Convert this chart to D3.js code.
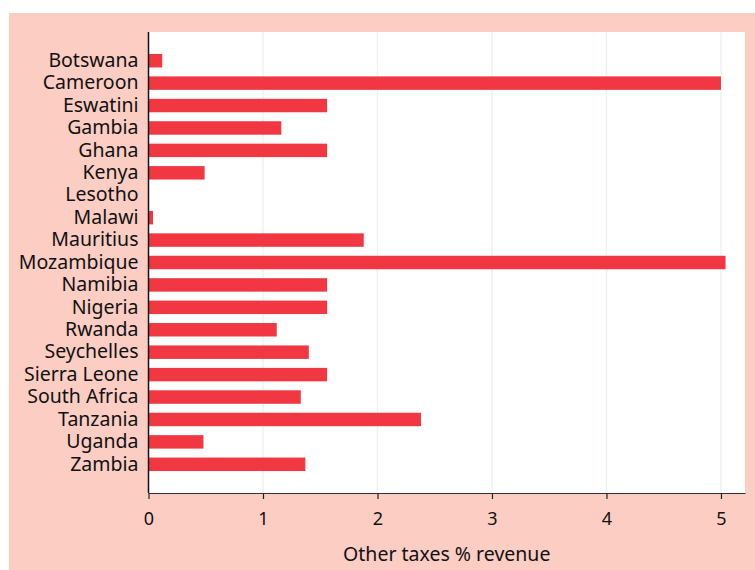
<!DOCTYPE html>
<html>
<head>
<meta charset="utf-8">
<script src="https://cdn.jsdelivr.net/npm/d3@7"></script>
<style>
  body { margin: 0; background: #fff; }
  svg { display: block; }
  svg text { font-family: "Noto Sans", sans-serif; }
</style>
</head>
<body>
<svg id="chart" width="755" height="570"></svg>
<script>
// values
const countries = ["Botswana", "Cameroon", "Eswatini", "Gambia", "Ghana", "Kenya", "Lesotho",
  "Malawi", "Mauritius", "Mozambique", "Namibia", "Nigeria", "Rwanda", "Seychelles",
  "Sierra Leone", "South Africa", "Tanzania", "Uganda", "Zambia"];
const otherTaxes = [0.12, 5.0, 1.56, 1.16, 1.56, 0.49, 0, 0.04, 1.88, 5.04, 1.56, 1.56, 1.12,
  1.40, 1.56, 1.33, 2.38, 0.48, 1.37];
const xTicks = [0, 1, 2, 3, 4, 5];

const svg = d3.select("#chart");
const plot = { left: 148.5, right: 745, top: 32, bottom: 493 };

// pink frame
svg.append("rect")
  .attr("x", 9).attr("y", 13)
  .attr("width", 746).attr("height", 557)
  .attr("fill", "#fbcdc3");

svg.append("rect")
  .attr("x", plot.left).attr("y", plot.top)
  .attr("width", plot.right - plot.left).attr("height", plot.bottom - plot.top)
  .attr("fill", "#fff");

const x = d3.scaleLinear().domain([0, 5.21]).range([plot.left, plot.right]);
const y = d3.scaleBand().domain(countries).range([plot.top, plot.bottom])
  .paddingInner(0.4).paddingOuter(0.98);

// grid
svg.append("g").selectAll("line")
  .data(xTicks.slice(1))
  .join("line")
  .attr("x1", d => x(d)).attr("x2", d => x(d))
  .attr("y1", plot.top).attr("y2", plot.bottom)
  .attr("stroke", "#edf2f5")
  .attr("stroke-width", 1.5);

// bars
svg.append("g").selectAll("rect")
  .data(countries)
  .join("rect")
  .attr("x", x(0))
  .attr("y", d => y(d))
  .attr("width", (d, i) => x(otherTaxes[i]) - x(0))
  .attr("height", y.bandwidth())
  .attr("fill", "#f03742");

// x axis
const xAxis = svg.append("g")
  .attr("transform", `translate(0,${plot.bottom})`)
  .call(d3.axisBottom(x).tickValues(xTicks).tickFormat(d3.format("d")).tickSize(6).tickSizeOuter(0).tickPadding(13));
xAxis.attr("font-family", null);
xAxis.select(".domain").attr("stroke", "#333").attr("stroke-width", 1.2);
xAxis.selectAll(".tick line").attr("stroke", "#222").attr("stroke-width", 1.2);
xAxis.selectAll(".tick text").attr("font-size", 18).attr("fill", "#111");

// y axis
const yAxis = svg.append("g")
  .attr("transform", `translate(${plot.left},0)`)
  .call(d3.axisLeft(y).tickSize(0).tickPadding(10));
yAxis.attr("font-family", null);
yAxis.select(".domain").attr("stroke", "#111").attr("stroke-width", 1.5)
  .attr("d", `M0,${plot.top}V${plot.bottom}`);
yAxis.selectAll(".tick text").attr("font-size", 19.5).attr("fill", "#111");

svg.append("text")
  .attr("x", (plot.left + plot.right) / 2)
  .attr("y", 561)
  .attr("text-anchor", "middle")
  .attr("font-size", 19.5)
  .attr("fill", "#111")
  .text("Other taxes % revenue");
</script>
</body>
</html>
